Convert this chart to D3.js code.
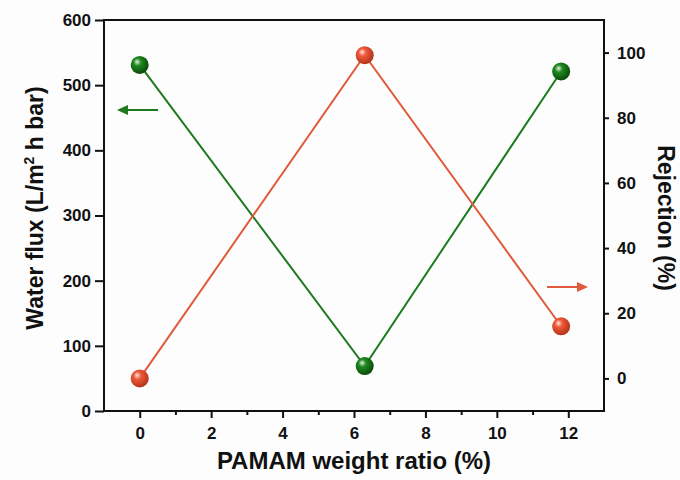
<!DOCTYPE html>
<html lang="en">
<head>
<meta charset="UTF-8">
<title>PAMAM</title>
<script src="https://cdn.jsdelivr.net/npm/d3@7"></script>
<style>
    body { margin: 0; background: #fdfdfd; }
    text { font-family: Arial, "Liberation Sans", sans-serif; font-weight: bold; fill: #111; }
</style>
</head>
<body>
<script>
    // data
    var ratio = [0, 6.3, 11.8];
    var flux = [531, 69, 521];
    var rejection = [0, 99.2, 16];
    var xTicks = [0, 2, 4, 6, 8, 10, 12];
    var fluxTicks = [0, 100, 200, 300, 400, 500, 600];
    var rejTicks = [0, 20, 40, 60, 80, 100];

    var W = 680, H = 480;
    var m = {left: 104, right: 76, top: 20, bottom: 69};

    var svg = d3.select("body").append("svg")
        .attr("width", W).attr("height", H);

    var x = d3.scaleLinear().domain([-1, 13]).range([m.left, W - m.right]);
    var yL = d3.scaleLinear().domain([0, 600]).range([H - m.bottom, m.top]);
    var yR = d3.scaleLinear().domain([-10, 110]).range([H - m.bottom, m.top]);

    var green = "#1f7a1f", red = "#e05a3c";

    // sphere gradients
    var defs = svg.append("defs");
    function ballGrad(id, light, mid, dark) {
        var g = defs.append("radialGradient").attr("id", id)
            .attr("cx", "40%").attr("cy", "38%").attr("r", "60%")
            .attr("fx", "35%").attr("fy", "32%");
        g.append("stop").attr("offset", "0%").attr("stop-color", light);
        g.append("stop").attr("offset", "35%").attr("stop-color", mid);
        g.append("stop").attr("offset", "100%").attr("stop-color", dark);
    }
    ballGrad("gball", "#e8f0e8", "#1f8a1f", "#0b4d0b");
    ballGrad("rball", "#ffe8e0", "#ee5a3a", "#b8361c");

    // frame
    svg.append("rect")
        .attr("x", m.left).attr("y", m.top)
        .attr("width", W - m.left - m.right).attr("height", H - m.top - m.bottom)
        .attr("fill", "none").attr("stroke", "#111").attr("stroke-width", 2);

    // axes
    svg.append("g").attr("transform", "translate(0," + (H - m.bottom) + ")")
        .call(d3.axisBottom(x).tickValues(xTicks).tickSize(7).tickPadding(9));
    svg.append("g").attr("transform", "translate(0," + (H - m.bottom) + ")")
        .call(d3.axisBottom(x).tickValues([1, 3, 5, 7, 9, 11]).tickSize(4).tickFormat(""));
    svg.append("g").attr("transform", "translate(" + m.left + ",0)")
        .call(d3.axisLeft(yL).tickValues(fluxTicks).tickSize(9).tickPadding(4));
    svg.append("g").attr("transform", "translate(" + (W - m.right) + ",0)")
        .call(d3.axisRight(yR).tickValues(rejTicks).tickSize(5).tickPadding(8));

    svg.selectAll(".domain").remove();
    svg.selectAll(".tick line").attr("stroke", "#111").attr("stroke-width", 2);
    svg.selectAll(".tick text").style("font-size", "17px").attr("fill", "#111");

    // lines
    var lineL = d3.line().x(function(d, i) { return x(ratio[i]); }).y(function(d) { return yL(d); });
    var lineR = d3.line().x(function(d, i) { return x(ratio[i]); }).y(function(d) { return yR(d); });

    svg.append("path").attr("d", lineL(flux)).attr("fill", "none")
        .attr("stroke", green).attr("stroke-width", 2);
    svg.append("path").attr("d", lineR(rejection)).attr("fill", "none")
        .attr("stroke", red).attr("stroke-width", 2);

    svg.selectAll(".gball").data(flux).enter().append("circle")
        .attr("cx", function(d, i) { return x(ratio[i]); })
        .attr("cy", function(d) { return yL(d); })
        .attr("r", 9).attr("fill", "url(#gball)");
    svg.selectAll(".rball").data(rejection).enter().append("circle")
        .attr("cx", function(d, i) { return x(ratio[i]); })
        .attr("cy", function(d) { return yR(d); })
        .attr("r", 9).attr("fill", "url(#rball)");

    // axis arrows
    function arrow(x1, x2, y, col) {
        var dir = x2 > x1 ? 1 : -1;
        svg.append("line").attr("x1", x1).attr("x2", x2 - dir * 8).attr("y1", y).attr("y2", y)
            .attr("stroke", col).attr("stroke-width", 2);
        svg.append("path")
            .attr("d", "M" + x2 + "," + y + "L" + (x2 - dir * 11) + "," + (y - 5) + "L" + (x2 - dir * 11) + "," + (y + 5) + "Z")
            .attr("fill", col);
    }
    arrow(158, 117, 110, green);
    arrow(547, 588, 287, red);

    // titles
    svg.append("text").attr("x", 354).attr("y", 469)
        .attr("text-anchor", "middle").style("font-size", "24px")
        .text("PAMAM weight ratio (%)");

    var lt = svg.append("text")
        .attr("transform", "translate(43,208) rotate(-90)")
        .attr("text-anchor", "middle").style("font-size", "23px");
    lt.append("tspan").text("Water flux (L/m");
    lt.append("tspan").attr("dy", -9).style("font-size", "14px").text("2");
    lt.append("tspan").attr("dy", 9).text(" h bar)");

    svg.append("text")
        .attr("transform", "translate(658,218) rotate(90)")
        .attr("text-anchor", "middle").style("font-size", "23px")
        .text("Rejection (%)");
</script>
</body>
</html>
